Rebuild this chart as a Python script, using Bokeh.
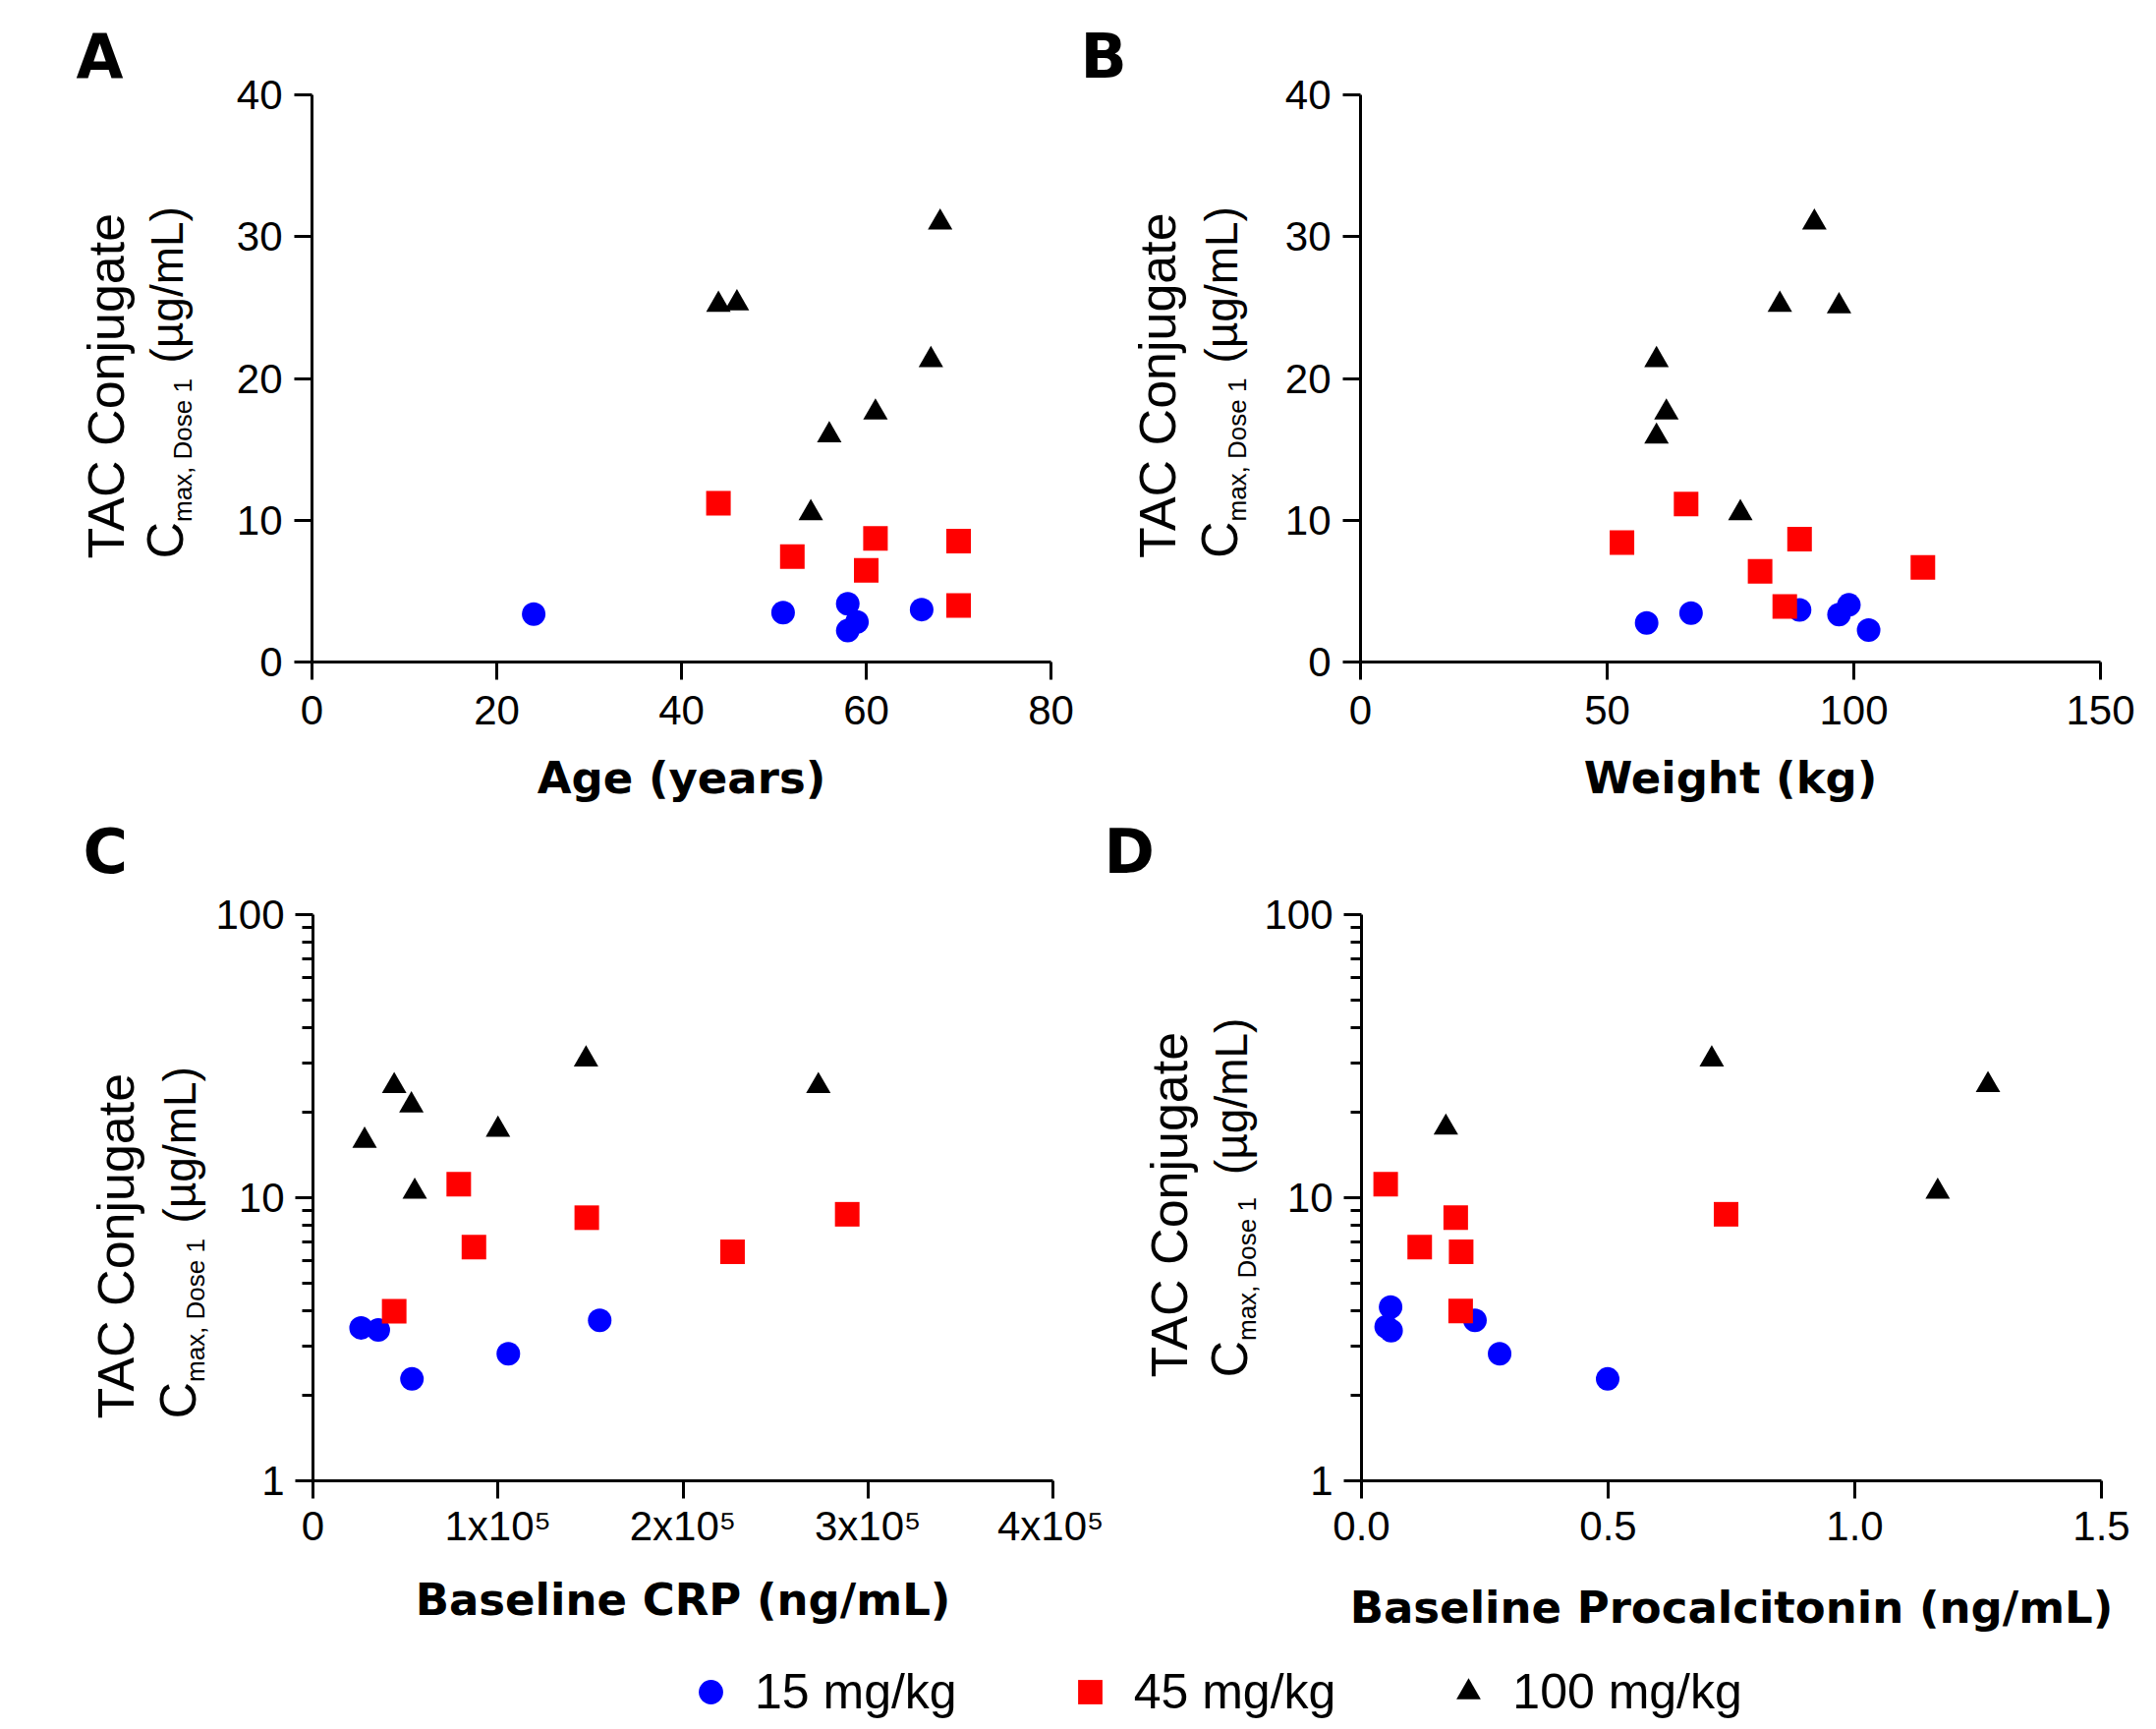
import math
from bokeh.plotting import figure
from bokeh.models import Range1d, FixedTicker, Label, Legend, LegendItem, PrintfTickFormatter
from bokeh.layouts import column, row
from bokeh.embed import file_html
from bokeh.resources import INLINE

# ---------------- data ----------------
groups = ["15 mg/kg", "45 mg/kg", "100 mg/kg"]
colors = ["#0000FF", "#FF0000", "#000000"]
markers = ["circle", "square", "triangle"]
marker_sizes = [24, 25, 25]

# Panel A: Age (years)
age_15 = [24, 51, 58, 59, 58, 66]
cmax_age_15 = [3.38, 3.48, 4.10, 2.83, 2.21, 3.70]
age_45 = [44, 52, 60, 61, 70, 70]
cmax_age_45 = [11.2, 7.44, 6.46, 8.71, 8.53, 3.99]
age_100 = [44, 46, 68, 67, 61, 56, 54]
cmax_age_100 = [25.2, 25.3, 31.0, 21.3, 17.6, 16.0, 10.5]

# Panel B: Weight (kg)
wt_15 = [58, 67, 89, 97, 99, 103]
cmax_wt_15 = [2.76, 3.45, 3.67, 3.34, 4.03, 2.25]
wt_45 = [53, 66, 81, 86, 89, 114]
cmax_wt_45 = [8.42, 11.14, 6.39, 3.92, 8.67, 6.68]
wt_100 = [92, 85, 97, 60, 62, 60, 77]
cmax_wt_100 = [31.0, 25.2, 25.1, 21.3, 17.6, 15.9, 10.5]

# Panel C: Baseline CRP (ng/mL)
crp_15 = [26000, 35300, 53500, 105600, 155000]
cmax_crp_15 = [3.47, 3.41, 2.29, 2.81, 3.69]
crp_45 = [43900, 78800, 87000, 148000, 226800, 288800]
cmax_crp_45 = [3.97, 11.16, 6.69, 8.50, 6.44, 8.74]
crp_100 = [27900, 43900, 53200, 55000, 100000, 147600, 273200]
cmax_crp_100 = [15.9, 24.8, 21.2, 10.5, 17.4, 30.8, 24.8]

# Panel D: Baseline Procalcitonin (ng/mL)
pct_15 = [0.059, 0.050, 0.060, 0.230, 0.280, 0.499]
cmax_pct_15 = [4.11, 3.50, 3.39, 3.69, 2.81, 2.29]
pct_45 = [0.049, 0.118, 0.191, 0.202, 0.201, 0.739]
cmax_pct_45 = [11.16, 6.69, 8.50, 6.44, 3.98, 8.74]
pct_100 = [0.171, 0.710, 1.270, 1.168]
cmax_pct_100 = [17.7, 30.8, 25.0, 10.5]

# ticks
lin_y_ticks = [0, 10, 20, 30, 40]
log_y_ticks = [1, 10, 100]
log_y_minor = [2, 3, 4, 5, 6, 7, 8, 9, 20, 30, 40, 50, 60, 70, 80, 90]
age_ticks = [0, 20, 40, 60, 80]
wt_ticks = [0, 50, 100, 150]
crp_ticks = [0, 100000, 200000, 300000, 400000]
crp_tick_labels = ["0", "1x10\u2075", "2x10\u2075", "3x10\u2075", "4x10\u2075"]
pct_ticks = [0, 0.5, 1.0, 1.5]

x_titles = ["Age (years)", "Weight (kg)", "Baseline CRP (ng/mL)", "Baseline Procalcitonin (ng/mL)"]
y_title_1 = "TAC Conjugate"
y_title_c = "C"
y_title_sub = "max, Dose 1"
y_title_units = "(\u00b5g/mL)"
panel_letters = ["A", "B", "C", "D"]

REG = "Liberation Sans"
BOLD = "DejaVu Sans"


def make_panel(xs, ys, x_rng, x_ticks, log_y, fw, fh, bl, br, bt, bb, x_title,
               tick_standoff, label_standoff, y_standoff):
    kw = dict(frame_width=fw, frame_height=fh, min_border_left=bl, min_border_right=br,
              min_border_top=bt, min_border_bottom=bb, toolbar_location=None,
              output_backend="svg", outline_line_color=None,
              x_range=Range1d(*x_rng))
    if log_y:
        kw["y_axis_type"] = "log"
        kw["y_range"] = Range1d(1, 100)
    else:
        kw["y_range"] = Range1d(0, 40)
    p = figure(**kw)
    p.xgrid.visible = False
    p.ygrid.visible = False
    for i in range(3):
        p.scatter(xs[i], ys[i], marker=markers[i], size=marker_sizes[i],
                  fill_color=colors[i], line_color=None)
    xa = p.xaxis[0]
    ya = p.yaxis[0]
    for ax in (xa, ya):
        ax.axis_line_width = 3
        ax.axis_line_color = "black"
        ax.major_tick_line_width = 3
        ax.minor_tick_line_width = 3
        ax.major_tick_in = 0
        ax.major_tick_out = 18
        ax.minor_tick_in = 0
        ax.major_label_text_font = REG
        ax.major_label_text_font_size = "42px"
        ax.major_label_text_color = "black"
    xa.minor_tick_out = 0
    xa.ticker = FixedTicker(ticks=x_ticks)
    xa.major_label_standoff = tick_standoff
    xa.axis_label = x_title
    xa.axis_label_text_font = BOLD
    xa.axis_label_text_font_style = "bold"
    xa.axis_label_text_font_size = "45px"
    xa.axis_label_text_color = "black"
    xa.axis_label_standoff = label_standoff
    ya.major_label_standoff = y_standoff
    if log_y:
        ya.ticker = FixedTicker(ticks=log_y_ticks, minor_ticks=log_y_minor)
        ya.minor_tick_out = 11
        ya.major_label_overrides = {1: "1", 10: "10", 100: "100"}
    else:
        ya.ticker = FixedTicker(ticks=lin_y_ticks)
        ya.minor_tick_out = 0
    return p


def make_title_fig(w, h, letter, letter_xy, l1x, l2x, subx, y0, ysub, uy, ux):
    t = figure(width=w, height=h, min_border=0, toolbar_location=None,
               output_backend="svg", outline_line_color=None, x_axis_location=None,
               y_axis_location=None, x_range=Range1d(0, w), y_range=Range1d(0, h),
               frame_align=False)
    t.xgrid.visible = False
    t.ygrid.visible = False
    common = dict(x_units="screen", y_units="screen", angle=math.pi / 2, text_align="left",
                  text_baseline="middle", text_color="black", text_font=REG)
    t.add_layout(Label(x=l1x, y=y0, text=y_title_1, text_font_size="52px", **common))
    t.add_layout(Label(x=l2x, y=y0, text=y_title_c, text_font_size="52px", **common))
    t.add_layout(Label(x=subx, y=ysub, text=y_title_sub, text_font_size="26px", **common))
    t.add_layout(Label(x=ux, y=uy, text=y_title_units, text_font_size="46px", **common))
    t.add_layout(Label(x=letter_xy[0], y=letter_xy[1], x_units="screen", y_units="screen",
                       text=letter, text_font=BOLD, text_font_style="bold",
                       text_font_size="62px", text_align="left", text_baseline="middle",
                       text_color="black"))
    return t


# top row (page y 0..830)
tA = make_title_fig(205, 830, panel_letters[0], (77, 773), 107.5, 167.5, 185.4, 262, 299.5, 461, 169.7)
pA = make_panel([age_15, age_45, age_100], [cmax_age_15, cmax_age_45, cmax_age_100],
                (0, 80), age_ticks, False, 752, 577, 112, 28, 96, 157, x_titles[0], 16, 25, 12)
tB = make_title_fig(178, 830, panel_letters[1], (2, 773), 80.8, 143.2, 161.1, 262.5, 300, 461, 145.4)
pB = make_panel([wt_15, wt_45, wt_100], [cmax_wt_15, cmax_wt_45, cmax_wt_100],
                (0, 150), wt_ticks, False, 753, 577, 109, 53, 96, 157, x_titles[1], 16, 25, 12)

# bottom row (page y 830..1670)
tC = make_title_fig(216, 840, panel_letters[2], (84, 804), 117.3, 180.2, 198.1, 227, 264.5, 426, 182.4)
pC = make_panel([crp_15, crp_45, crp_100], [cmax_crp_15, cmax_crp_45, cmax_crp_100],
                (0, 400000), crp_ticks, True, 753, 576, 101, 52, 100, 164, x_titles[2], 4, 22, 11)
tD = make_title_fig(160, 840, panel_letters[3], (0, 804), 66.4, 127.3, 145.2, 269, 306.5, 475.5, 129.5)
pD = make_panel([pct_15, pct_45, pct_100], [cmax_pct_15, cmax_pct_45, cmax_pct_100],
                (0, 1.5), pct_ticks, True, 753, 576, 102, 53, 100, 164, x_titles[3], 13, 39, 11)

pC.xaxis[0].major_label_overrides = dict(zip(crp_ticks, crp_tick_labels))
pD.xaxis[0].formatter = PrintfTickFormatter(format="%.1f")

# legend strip (page y 1670..1755)
pL = figure(frame_width=2190, frame_height=85, min_border=0, toolbar_location=None,
            output_backend="svg", outline_line_color=None, x_axis_location=None,
            y_axis_location=None, x_range=Range1d(0, 1), y_range=Range1d(0, 1))
pL.xgrid.visible = False
pL.ygrid.visible = False
legend_x = [age_15, age_45, age_100]
legend_y = [cmax_age_15, cmax_age_45, cmax_age_100]
items = []
for i in range(3):
    r = pL.scatter(x=legend_x[i], y=legend_y[i], marker=markers[i], size=marker_sizes[i],
                   fill_color=colors[i], line_color=None, visible=False)
    items.append(LegendItem(label=groups[i], renderers=[r]))
legend = Legend(items=items, orientation="horizontal", location=(692, 3),
                glyph_width=62, glyph_height=62, label_standoff=14, spacing=104,
                padding=0, margin=0, border_line_color=None, background_fill_alpha=0,
                label_text_font=REG, label_text_font_size="50px", label_text_color="black",
                inactive_fill_alpha=0)
pL.add_layout(legend)

layout = column(row(tA, pA, tB, pB), row(tC, pC, tD, pD), pL)
open("out.html", "w").write(file_html(layout, INLINE))
